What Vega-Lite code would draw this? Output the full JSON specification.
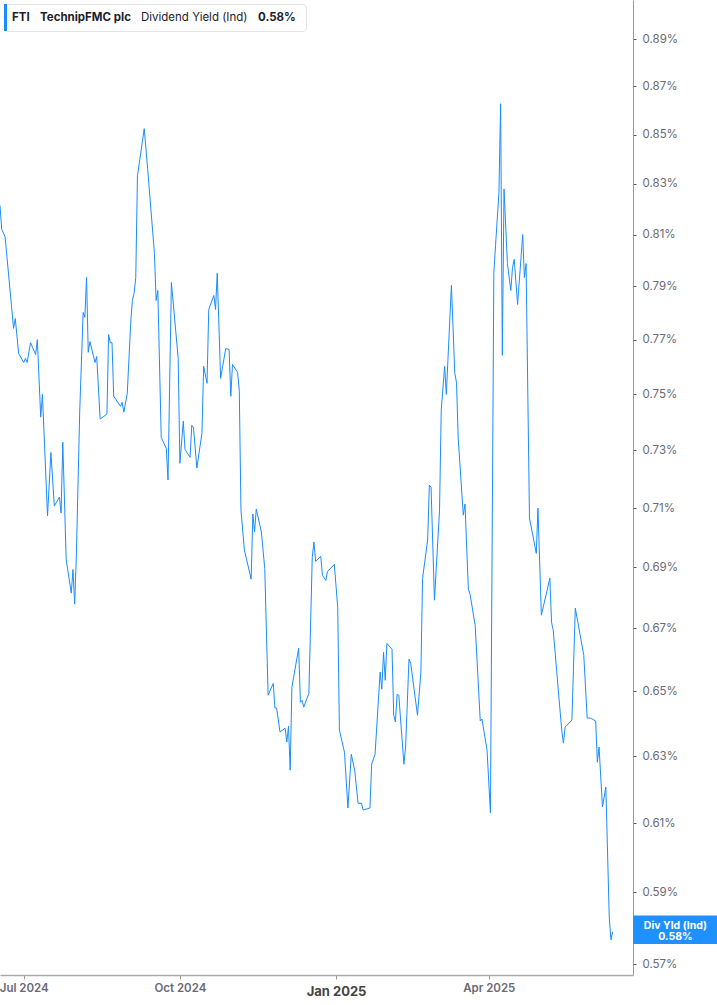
{
  "$schema": "https://vega.github.io/schema/vega-lite/v6.json",
  "width": 633,
  "height": 975,
  "autosize": {"type": "none"},
  "padding": {"left": 0, "top": 0, "right": 84, "bottom": 30},
  "background": "white",
  "config": {"view": {"stroke": null}, "font": "Inter"},
  "layer": [
    {
      "data": {
        "values": [
          {"date": "2024-06-17", "yield": 0.8214}, {"date": "2024-06-18", "yield": 0.8120}, {"date": "2024-06-20", "yield": 0.8092},
          {"date": "2024-06-25", "yield": 0.7742}, {"date": "2024-06-26", "yield": 0.7779}, {"date": "2024-06-28", "yield": 0.7649},
          {"date": "2024-07-01", "yield": 0.7616}, {"date": "2024-07-02", "yield": 0.7631}, {"date": "2024-07-03", "yield": 0.7616},
          {"date": "2024-07-05", "yield": 0.7689}, {"date": "2024-07-08", "yield": 0.7645}, {"date": "2024-07-09", "yield": 0.7700},
          {"date": "2024-07-11", "yield": 0.7418}, {"date": "2024-07-12", "yield": 0.7500}, {"date": "2024-07-15", "yield": 0.7073},
          {"date": "2024-07-17", "yield": 0.7293}, {"date": "2024-07-19", "yield": 0.7107}, {"date": "2024-07-22", "yield": 0.7138},
          {"date": "2024-07-23", "yield": 0.7083}, {"date": "2024-07-24", "yield": 0.7329}, {"date": "2024-07-26", "yield": 0.6927},
          {"date": "2024-07-29", "yield": 0.6815}, {"date": "2024-07-30", "yield": 0.6893}, {"date": "2024-07-31", "yield": 0.6779},
          {"date": "2024-08-01", "yield": 0.6941}, {"date": "2024-08-03", "yield": 0.7443}, {"date": "2024-08-05", "yield": 0.7802},
          {"date": "2024-08-06", "yield": 0.7783}, {"date": "2024-08-07", "yield": 0.7934}, {"date": "2024-08-08", "yield": 0.7653},
          {"date": "2024-08-09", "yield": 0.7693}, {"date": "2024-08-12", "yield": 0.7616}, {"date": "2024-08-13", "yield": 0.7638},
          {"date": "2024-08-15", "yield": 0.7411}, {"date": "2024-08-19", "yield": 0.7429}, {"date": "2024-08-20", "yield": 0.7719},
          {"date": "2024-08-21", "yield": 0.7689}, {"date": "2024-08-22", "yield": 0.7689}, {"date": "2024-08-23", "yield": 0.7493},
          {"date": "2024-08-27", "yield": 0.7457}, {"date": "2024-08-28", "yield": 0.7471}, {"date": "2024-08-29", "yield": 0.7436},
          {"date": "2024-08-31", "yield": 0.7504}, {"date": "2024-09-02", "yield": 0.7761}, {"date": "2024-09-03", "yield": 0.7847},
          {"date": "2024-09-04", "yield": 0.7874}, {"date": "2024-09-05", "yield": 0.7934}, {"date": "2024-09-06", "yield": 0.8333},
          {"date": "2024-09-10", "yield": 0.8524}, {"date": "2024-09-12", "yield": 0.8361}, {"date": "2024-09-16", "yield": 0.8027},
          {"date": "2024-09-17", "yield": 0.7847}, {"date": "2024-09-18", "yield": 0.7885}, {"date": "2024-09-20", "yield": 0.7346},
          {"date": "2024-09-23", "yield": 0.7307}, {"date": "2024-09-24", "yield": 0.7197}, {"date": "2024-09-26", "yield": 0.7915},
          {"date": "2024-09-30", "yield": 0.7631}, {"date": "2024-10-01", "yield": 0.7255}, {"date": "2024-10-03", "yield": 0.7404},
          {"date": "2024-10-04", "yield": 0.7304}, {"date": "2024-10-07", "yield": 0.7276}, {"date": "2024-10-08", "yield": 0.7389},
          {"date": "2024-10-09", "yield": 0.7382}, {"date": "2024-10-11", "yield": 0.7238}, {"date": "2024-10-14", "yield": 0.7361},
          {"date": "2024-10-15", "yield": 0.7602}, {"date": "2024-10-17", "yield": 0.7540}, {"date": "2024-10-18", "yield": 0.7813},
          {"date": "2024-10-21", "yield": 0.7866}, {"date": "2024-10-22", "yield": 0.7813}, {"date": "2024-10-23", "yield": 0.7950},
          {"date": "2024-10-25", "yield": 0.7558}, {"date": "2024-10-28", "yield": 0.7667}, {"date": "2024-10-30", "yield": 0.7664},
          {"date": "2024-10-31", "yield": 0.7493}, {"date": "2024-11-01", "yield": 0.7609}, {"date": "2024-11-04", "yield": 0.7580},
          {"date": "2024-11-05", "yield": 0.7514}, {"date": "2024-11-06", "yield": 0.7093}, {"date": "2024-11-08", "yield": 0.6958},
          {"date": "2024-11-12", "yield": 0.6861}, {"date": "2024-11-13", "yield": 0.7080}, {"date": "2024-11-14", "yield": 0.7019},
          {"date": "2024-11-15", "yield": 0.7097}, {"date": "2024-11-18", "yield": 0.7019}, {"date": "2024-11-20", "yield": 0.6897},
          {"date": "2024-11-22", "yield": 0.6488}, {"date": "2024-11-25", "yield": 0.6525}, {"date": "2024-11-26", "yield": 0.6448},
          {"date": "2024-11-27", "yield": 0.6448}, {"date": "2024-11-29", "yield": 0.6374}, {"date": "2024-12-02", "yield": 0.6386},
          {"date": "2024-12-03", "yield": 0.6343}, {"date": "2024-12-04", "yield": 0.6392}, {"date": "2024-12-05", "yield": 0.6258},
          {"date": "2024-12-06", "yield": 0.6513}, {"date": "2024-12-10", "yield": 0.6637}, {"date": "2024-12-11", "yield": 0.6466},
          {"date": "2024-12-12", "yield": 0.6472}, {"date": "2024-12-13", "yield": 0.6451}, {"date": "2024-12-16", "yield": 0.6494},
          {"date": "2024-12-18", "yield": 0.6934}, {"date": "2024-12-19", "yield": 0.6985}, {"date": "2024-12-20", "yield": 0.6920},
          {"date": "2024-12-23", "yield": 0.6937}, {"date": "2024-12-24", "yield": 0.6874}, {"date": "2024-12-26", "yield": 0.6857},
          {"date": "2024-12-27", "yield": 0.6887}, {"date": "2024-12-31", "yield": 0.6910}, {"date": "2025-01-02", "yield": 0.6769},
          {"date": "2025-01-03", "yield": 0.6380}, {"date": "2025-01-06", "yield": 0.6312}, {"date": "2025-01-08", "yield": 0.6145},
          {"date": "2025-01-10", "yield": 0.6306}, {"date": "2025-01-12", "yield": 0.6258}, {"date": "2025-01-14", "yield": 0.6159},
          {"date": "2025-01-16", "yield": 0.6159}, {"date": "2025-01-17", "yield": 0.6139}, {"date": "2025-01-21", "yield": 0.6145},
          {"date": "2025-01-22", "yield": 0.6276}, {"date": "2025-01-24", "yield": 0.6306}, {"date": "2025-01-27", "yield": 0.6561},
          {"date": "2025-01-28", "yield": 0.6507}, {"date": "2025-01-29", "yield": 0.6624}, {"date": "2025-01-30", "yield": 0.6535},
          {"date": "2025-01-31", "yield": 0.6652}, {"date": "2025-02-03", "yield": 0.6633}, {"date": "2025-02-04", "yield": 0.6426},
          {"date": "2025-02-05", "yield": 0.6405}, {"date": "2025-02-06", "yield": 0.6491}, {"date": "2025-02-07", "yield": 0.6488},
          {"date": "2025-02-10", "yield": 0.6276}, {"date": "2025-02-11", "yield": 0.6328}, {"date": "2025-02-13", "yield": 0.6602},
          {"date": "2025-02-14", "yield": 0.6589}, {"date": "2025-02-18", "yield": 0.6426}, {"date": "2025-02-20", "yield": 0.6558},
          {"date": "2025-02-21", "yield": 0.6864}, {"date": "2025-02-24", "yield": 0.6992}, {"date": "2025-02-25", "yield": 0.7179},
          {"date": "2025-02-26", "yield": 0.7172}, {"date": "2025-02-28", "yield": 0.6792}, {"date": "2025-03-03", "yield": 0.7093},
          {"date": "2025-03-04", "yield": 0.7443}, {"date": "2025-03-06", "yield": 0.7602}, {"date": "2025-03-07", "yield": 0.7500},
          {"date": "2025-03-10", "yield": 0.7904}, {"date": "2025-03-12", "yield": 0.7576}, {"date": "2025-03-13", "yield": 0.7543},
          {"date": "2025-03-14", "yield": 0.7343}, {"date": "2025-03-17", "yield": 0.7076}, {"date": "2025-03-18", "yield": 0.7114},
          {"date": "2025-03-20", "yield": 0.6828}, {"date": "2025-03-21", "yield": 0.6811}, {"date": "2025-03-24", "yield": 0.6710},
          {"date": "2025-03-27", "yield": 0.6408}, {"date": "2025-03-28", "yield": 0.6414}, {"date": "2025-03-31", "yield": 0.6318},
          {"date": "2025-04-02", "yield": 0.6130}, {"date": "2025-04-04", "yield": 0.7954}, {"date": "2025-04-05", "yield": 0.8058},
          {"date": "2025-04-07", "yield": 0.8265}, {"date": "2025-04-08", "yield": 0.8627}, {"date": "2025-04-09", "yield": 0.7642},
          {"date": "2025-04-10", "yield": 0.8280}, {"date": "2025-04-12", "yield": 0.7988}, {"date": "2025-04-14", "yield": 0.7885},
          {"date": "2025-04-15", "yield": 0.7973}, {"date": "2025-04-16", "yield": 0.8004}, {"date": "2025-04-18", "yield": 0.7832},
          {"date": "2025-04-21", "yield": 0.8100}, {"date": "2025-04-22", "yield": 0.7934}, {"date": "2025-04-23", "yield": 0.7988},
          {"date": "2025-04-25", "yield": 0.7066}, {"date": "2025-04-29", "yield": 0.6947}, {"date": "2025-04-30", "yield": 0.7100},
          {"date": "2025-05-02", "yield": 0.6743}, {"date": "2025-05-07", "yield": 0.6864}, {"date": "2025-05-08", "yield": 0.6720},
          {"date": "2025-05-09", "yield": 0.6694}, {"date": "2025-05-12", "yield": 0.6503}, {"date": "2025-05-14", "yield": 0.6380},
          {"date": "2025-05-15", "yield": 0.6340}, {"date": "2025-05-16", "yield": 0.6389}, {"date": "2025-05-20", "yield": 0.6411},
          {"date": "2025-05-22", "yield": 0.6766}, {"date": "2025-05-27", "yield": 0.6614}, {"date": "2025-05-29", "yield": 0.6417},
          {"date": "2025-05-31", "yield": 0.6417}, {"date": "2025-06-03", "yield": 0.6408}, {"date": "2025-06-04", "yield": 0.6282},
          {"date": "2025-06-05", "yield": 0.6328}, {"date": "2025-06-07", "yield": 0.6148}, {"date": "2025-06-09", "yield": 0.6207},
          {"date": "2025-06-11", "yield": 0.5831}, {"date": "2025-06-12", "yield": 0.5767}, {"date": "2025-06-13", "yield": 0.5789}
        ]
      },
      "mark": {"type": "line", "strokeWidth": 1},
      "encoding": {
        "x": {
          "field": "date",
          "type": "temporal",
          "scale": {
            "type": "utc",
            "domain": [
              {"year": 2024, "month": 6, "date": 17, "utc": true},
              {"year": 2025, "month": 6, "date": 25, "utc": true}
            ]
          },
          "axis": {
            "title": null,
            "grid": false,
            "values": [
              {"year": 2024, "month": 7, "date": 1, "utc": true},
              {"year": 2024, "month": 10, "date": 1, "utc": true},
              {"year": 2025, "month": 1, "date": 1, "utc": true},
              {"year": 2025, "month": 4, "date": 1, "utc": true}
            ],
            "labelExpr": "utcFormat(datum.value, '%b %Y')",
            "domainColor": "#aaaaaa",
            "domainWidth": 1.5,
            "tickColor": "#999999",
            "tickSize": 4,
            "labelPadding": {"condition": {"test": "utcmonth(datum.value) == 0", "value": 6}, "value": 3},
            "labelFlush": false,
            "labelFontSize": {"condition": {"test": "utcmonth(datum.value) == 0", "value": 13}, "value": 11.5},
            "labelFontWeight": {"condition": {"test": "utcmonth(datum.value) == 0", "value": "bold"}, "value": 600},
            "labelColor": {"condition": {"test": "utcmonth(datum.value) == 0", "value": "#444444"}, "value": "#6a6a72"}
          }
        },
        "y": {
          "field": "yield",
          "type": "quantitative",
          "scale": {"type": "log", "domain": [0.567, 0.9069], "nice": false, "zero": false},
          "axis": {
            "orient": "right",
            "title": null,
            "grid": false,
            "values": [0.57, 0.59, 0.61, 0.63, 0.65, 0.67, 0.69, 0.71, 0.73, 0.75, 0.77, 0.79, 0.81, 0.83, 0.85, 0.87, 0.89],
            "labelExpr": "format(datum.value, '.2f') + '%'",
            "domainColor": "#999999",
            "tickColor": "#555555",
            "tickSize": 3,
            "labelPadding": 6,
            "labelFontSize": 11.5,
            "labelColor": "#6a6a72"
          }
        },
        "color": {
          "datum": "FTI",
          "type": "nominal",
          "scale": {
            "domain": ["FTI", "TechnipFMC plc", "Dividend Yield (Ind)", "0.58%", " "],
            "range": ["#1a8cff", "#ffffff", "#ffffff", "#ffffff", "#ffffff"]
          },
          "legend": {
            "title": null,
            "orient": "top-left",
            "offset": 4,
            "direction": "horizontal",
            "padding": 0,
            "fillColor": "white",
            "strokeColor": "#e4e4e4",
            "cornerRadius": 4,
            "symbolType": "M-0.111,-1 L0.111,-1 L0.111,1 L-0.111,1 Z",
            "symbolSize": 729,
            "symbolOffset": -12,
            "symbolStrokeWidth": 0,
            "labelFont": "Inter",
            "labelFontSize": 11.5,
            "labelColor": "#1d1d2b",
            "labelOffset": -7,
            "columnPadding": 2,
            "encode": {
              "labels": {"update": {"fontWeight": {"signal": "datum.value === 'Dividend Yield (Ind)' ? 'normal' : 'bold'"}}},
              "symbols": {"update": {
                "fill": {"value": "#1a8cff"},
                "stroke": {"value": "transparent"},
                "opacity": {"signal": "datum.value === 'FTI' ? 1 : 0"}
              }}
            }
          }
        }
      }
    },
    {
      "data": {"values": [{"tag": "Div Yld (Ind)", "yield": 0.5789}]},
      "mark": {"type": "rect", "color": "#1e90ff", "clip": false},
      "encoding": {
        "x": {"datum": {"year": 2025, "month": 6, "date": 25, "utc": true}, "type": "temporal"},
        "x2": {"datum": {"year": 2025, "month": 8, "date": 14, "utc": true}},
        "y": {"datum": 0.5755, "type": "quantitative"},
        "y2": {"datum": 0.5835}
      }
    },
    {
      "data": {"values": [{"tag": "Div Yld (Ind)", "yield": 0.5789}]},
      "mark": {
        "type": "text",
        "color": "white",
        "fontWeight": "bold",
        "fontSize": 10.5,
        "lineHeight": 11,
        "align": "center",
        "baseline": "middle",
        "dy": -6,
        "clip": false
      },
      "encoding": {
        "x": {"datum": {"year": 2025, "month": 7, "date": 20, "utc": true}, "type": "temporal"},
        "y": {"field": "yield", "type": "quantitative"},
        "text": {"value": ["Div Yld (Ind)", "0.58%"]}
      }
    }
  ]
}
